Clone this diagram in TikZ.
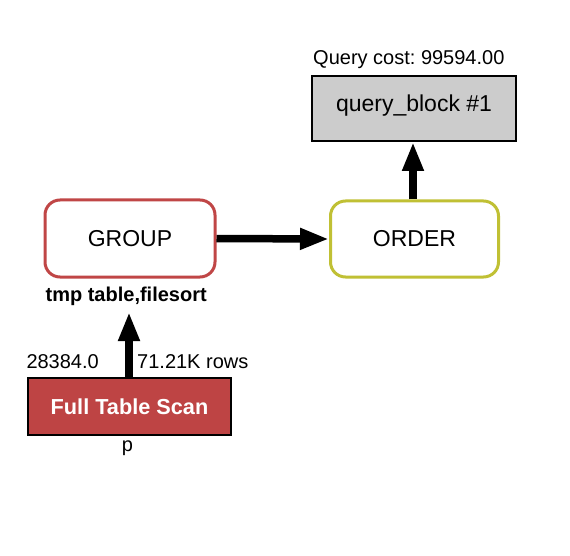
\documentclass[tikz,border=0pt]{standalone}
\usepackage{fontspec}
\setmainfont{Liberation Sans}
\frenchspacing
\usetikzlibrary{arrows.meta}
\definecolor{opred}{RGB}{192,70,70}
\definecolor{opyellow}{RGB}{192,192,52}
\definecolor{scanred}{RGB}{190,68,68}
\definecolor{qbgray}{RGB}{204,204,204}
\tikzset{
  opbox/.style={draw, line width=3pt, rounded corners=15pt, fill=white,
    minimum width=168pt, minimum height=76pt, inner sep=0pt,
    font=\fontsize{23}{27}\selectfont},
  qbbox/.style={draw=black, line width=2pt, fill=qbgray,
    minimum width=204pt, minimum height=65pt, inner sep=0pt,
    text height=16.8pt, text depth=10.4pt,
    font=\fontsize{23}{27}\selectfont},
  scanbox/.style={draw=black, line width=2.5pt, fill=scanred, text=white,
    minimum width=203pt, minimum height=57pt, inner sep=0pt,
    font=\fontsize{21.7}{26}\selectfont\bfseries},
  lbl/.style={inner sep=0pt, font=\fontsize{20}{24}\selectfont},
  blbl/.style={inner sep=0pt, font=\fontsize{20}{24}\selectfont\bfseries},
  flow/.style={line width=7.5pt, -{Triangle[length=29pt,width=20pt]}},
}
\begin{document}
\begin{tikzpicture}[x=1pt,y=-1pt]
\useasboundingbox (0,0) rectangle (570,556);
% nodes
\node[qbbox] (qb) at (414,108.5) {query\_block \#1};
\node[lbl, anchor=base west] (cost) at (313,65) {Query cost: 99594.00};
\node[opbox, draw=opred, minimum width=170pt, minimum height=77pt] (group) at (130,238.5) {GROUP};
\node[opbox, draw=opyellow] (order) at (414.5,239) {ORDER};
\node[blbl, anchor=base] (tmp) at (126.2,301) {tmp table,filesort};
\node[scanbox] (scan) at (129.5,406.5) {Full Table Scan};
\node[lbl, anchor=base] (p) at (127.5,451) {p};
\node[lbl, anchor=base east] (cost2) at (99,368) {28384.0};
\node[lbl, anchor=base west] (rows) at (137,368) {71.21K rows};
\coordinate (tmptip) at (129,312);
% connectors
\draw[flow] (scan.north -| tmptip) -- (tmptip);
\draw[flow] (group.east) -- (order.west);
\draw[flow] (order.north -| 413,0) -- (qb.south -| 413,0);
\end{tikzpicture}
\end{document}
